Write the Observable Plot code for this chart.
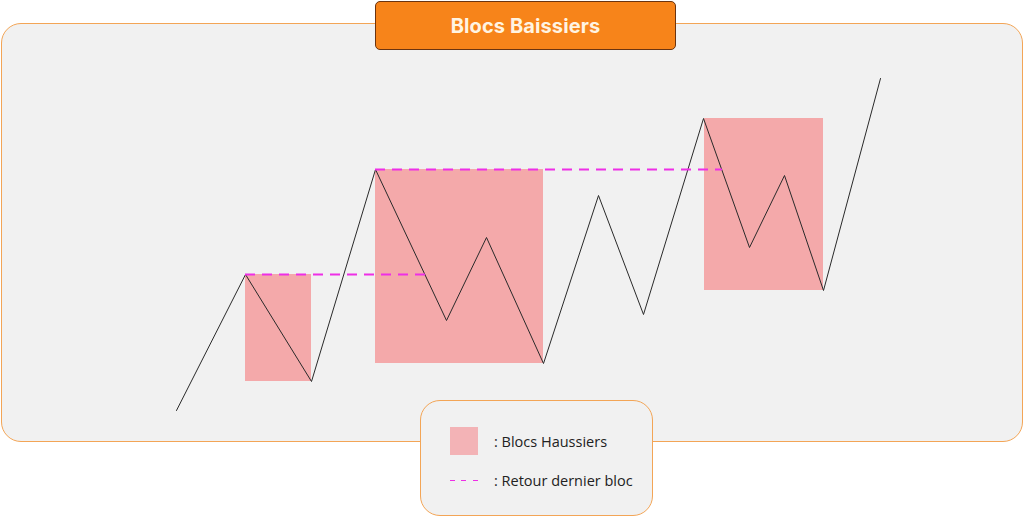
<!DOCTYPE html>
<html>
<head>
<meta charset="utf-8">
<script src="https://cdn.jsdelivr.net/npm/d3@7"></script>
<script src="https://cdn.jsdelivr.net/npm/@observablehq/plot@0.6"></script>
<style>
  html, body { margin: 0; padding: 0; background: #ffffff; }
  #wrap { position: relative; width: 1024px; height: 517px; overflow: hidden; font-family: "Open Sans", "Noto Sans", sans-serif; }
  #panel { position: absolute; left: 1px; top: 23px; width: 1022px; height: 419px; background: #f1f1f1; border: 1.2px solid #f3a556; border-radius: 20px; box-sizing: border-box; }
  #title { position: absolute; left: 375px; top: 1px; width: 301px; height: 49px; background: #f7841a; border: 1px solid #6b3410; border-radius: 5px; box-sizing: border-box; color: #fff4e2; font-family: Inter, "Open Sans", sans-serif; font-weight: 700; font-size: 20px; display: flex; align-items: center; justify-content: center; letter-spacing: 0.1px; }
  #chart { position: absolute; left: 0; top: 0; }
  #legend { position: absolute; left: 420px; top: 400px; width: 233px; height: 116px; background: #f1f1f1; border: 1.2px solid #f3a556; border-radius: 20px; box-sizing: border-box; }
  .lg-item { position: absolute; left: 29px; display: flex; align-items: center; font-size: 14.5px; color: #222; }
  .sw { width: 28px; height: 28px; background: #f3b3b6; margin-right: 16px; }
  .dash { width: 28px; height: 1.6px; background: repeating-linear-gradient(to right, #ee2fe6 0 5px, transparent 5px 11.5px); margin-right: 16px; }
</style>
</head>
<body>
<div id="wrap">
  <div id="panel"></div>
  <div id="chart"></div>
  <div id="title">Blocs Baissiers</div>
  <div id="legend">
    <div class="lg-item" style="top:26px;"><div class="sw"></div><span>: Blocs Haussiers</span></div>
    <div class="lg-item" style="top:70px;"><div class="dash"></div><span>: Retour dernier bloc</span></div>
  </div>
</div>
<script>
// Price path (time, price)
const times  = [176, 245, 311, 375, 446, 486, 543, 598, 643, 703, 749, 784, 823, 880];
const prices = [107, 243, 136, 348, 197, 280, 154, 322, 203, 399, 270, 342, 227, 439];

// Bullish order blocks
const blockStart = [245, 375, 704];
const blockEnd   = [311, 543, 823];
const blockLow   = [136, 154, 227];
const blockHigh  = [243, 348, 399];

// Return to last block levels
const retourStart = [245, 375];
const retourEnd   = [426, 722];
const retourLevel = [243, 348];

const path = times.map((t, i) => ({t, p: prices[i]}));
const blocks = blockStart.map((s, i) => ({x1: s, x2: blockEnd[i], y1: blockLow[i], y2: blockHigh[i]}));
const retours = retourStart.map((s, i) => ({x1: s, x2: retourEnd[i], y: retourLevel[i]}));

const chart = Plot.plot({
  width: 1024,
  height: 517,
  margin: 0,
  x: {domain: [0, 1024], range: [0, 1024], axis: null},
  y: {domain: [0, 517], range: [517, 0], axis: null},
  style: {background: "transparent"},
  marks: [
    Plot.rect(blocks, {x1: "x1", x2: "x2", y1: "y1", y2: "y2", fill: "#f4a9aa"}),
    Plot.line(path, {x: "t", y: "p", stroke: "#2a2a2a", strokeWidth: 1}),
    Plot.ruleY(retours, {y: "y", x1: "x1", x2: "x2", stroke: "#ee2fe6", strokeWidth: 2, strokeDasharray: "10,7"})
  ]
});
document.getElementById("chart").appendChild(chart);
</script>
</body>
</html>
